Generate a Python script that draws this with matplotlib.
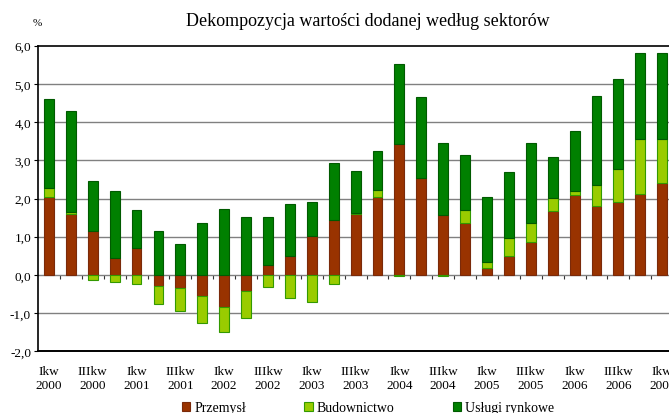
import numpy as np
import matplotlib
matplotlib.use("Agg")
import matplotlib.pyplot as plt

plt.rcParams['font.family'] = ['Liberation Serif', 'DejaVu Serif']

# quarters Ikw 2000 .. Ikw 2007
quarters = ["Ikw", "IIkw", "IIIkw", "IVkw"]
years = [2000, 2001, 2002, 2003, 2004, 2005, 2006, 2007]
n_bars = 29

przemysl = [2.05, 1.59, 1.16, 0.44, 0.70, -0.28, -0.35, -0.54, -0.83, -0.42,
            0.26, 0.49, 1.03, 1.43, 1.59, 2.05, 3.42, 2.53, 1.58, 1.35,
            0.18, 0.49, 0.86, 1.67, 2.08, 1.80, 1.91, 2.13, 2.41]
budownictwo = [0.22, 0.06, -0.14, -0.19, -0.25, -0.47, -0.59, -0.72, -0.66, -0.71,
               -0.32, -0.61, -0.70, -0.25, 0.03, 0.17, -0.02, 0.00, -0.02, 0.34,
               0.16, 0.48, 0.49, 0.35, 0.12, 0.55, 0.87, 1.44, 1.16]
uslugi = [2.33, 2.65, 1.31, 1.75, 1.01, 1.14, 0.82, 1.35, 1.72, 1.52,
          1.26, 1.37, 0.89, 1.49, 1.10, 1.03, 2.09, 2.12, 1.87, 1.44,
          1.71, 1.73, 2.09, 1.07, 1.57, 2.34, 2.36, 2.23, 2.25]

series = [
    ("Przemysł", przemysl, "#993300", "#7a2a0a"),
    ("Budownictwo", budownictwo, "#99cc00", "#339900"),
    ("Usługi rynkowe", uslugi, "#008000", "#005a00"),
]

labels = [f"{quarters[i % 4]}\n{years[i // 4]}" for i in range(n_bars)]

fig = plt.figure(figsize=(6.69, 4.14), dpi=100)
ax = fig.add_axes([38 / 669, 1 - 352.3 / 414, 1 - 38 / 669, (352.3 - 46.7) / 414])

x = np.arange(n_bars)
pos_bottom = np.zeros(n_bars)
neg_bottom = np.zeros(n_bars)
for name, vals, fc, ec in series:
    v = np.array(vals)
    bottom = np.where(v >= 0, pos_bottom, neg_bottom)
    ax.bar(x, v, 0.45, bottom=bottom, color=fc, edgecolor=ec, linewidth=0.8,
           label=name, zorder=3)
    pos_bottom += np.where(v >= 0, v, 0)
    neg_bottom += np.where(v < 0, v, 0)

ax.set_ylim(-2, 6)
ax.set_xlim(-0.5, (669 - 49) / 21.9)
yt = np.arange(-2, 7, 1.0)
ax.set_yticks(yt)
ax.set_yticklabels([f"{t:.1f}".replace(".", ",") for t in yt], fontsize=9.5)
ax.tick_params(axis='y', direction='out', length=3, width=0.8, pad=2)
for t in yt[1:-1]:
    ax.axhline(t, color="#808080", linewidth=1.0, zorder=1)

ax.set_xticks(x[::2])
ax.set_xticklabels(labels[::2], fontsize=9.5, linespacing=1.25)
ax.tick_params(axis='x', length=0, pad=10)

# category axis crossing at zero with tick marks between bars
sec = ax.secondary_xaxis(2 / 8)
sec.set_xticks(x[:-1] + 0.5)
sec.set_xticklabels([])
sec.tick_params(direction='out', length=3, width=0.8, color="#333333")
sec.spines['bottom'].set_visible(False)

for s in ['right']:
    ax.spines[s].set_visible(False)
ax.spines['top'].set_linewidth(1.2)
ax.spines['bottom'].set_linewidth(1.4)
ax.spines['left'].set_linewidth(1.2)

fig.text(368 / 669, 1 - 21 / 414, "Dekompozycja wartości dodanej według sektorów",
         ha='center', va='center', fontsize=13)
fig.text(37 / 669, 1 - 23 / 414, "%", ha='center', va='center', fontsize=8)

fig.legend(loc='center', bbox_to_anchor=(368 / 669, 1 - 409 / 414), ncol=3,
           frameon=False, fontsize=10, handlelength=0.6, handleheight=0.6,
           handletextpad=0.3, columnspacing=4.2, borderpad=0)

fig.savefig("out.png", dpi=100)
